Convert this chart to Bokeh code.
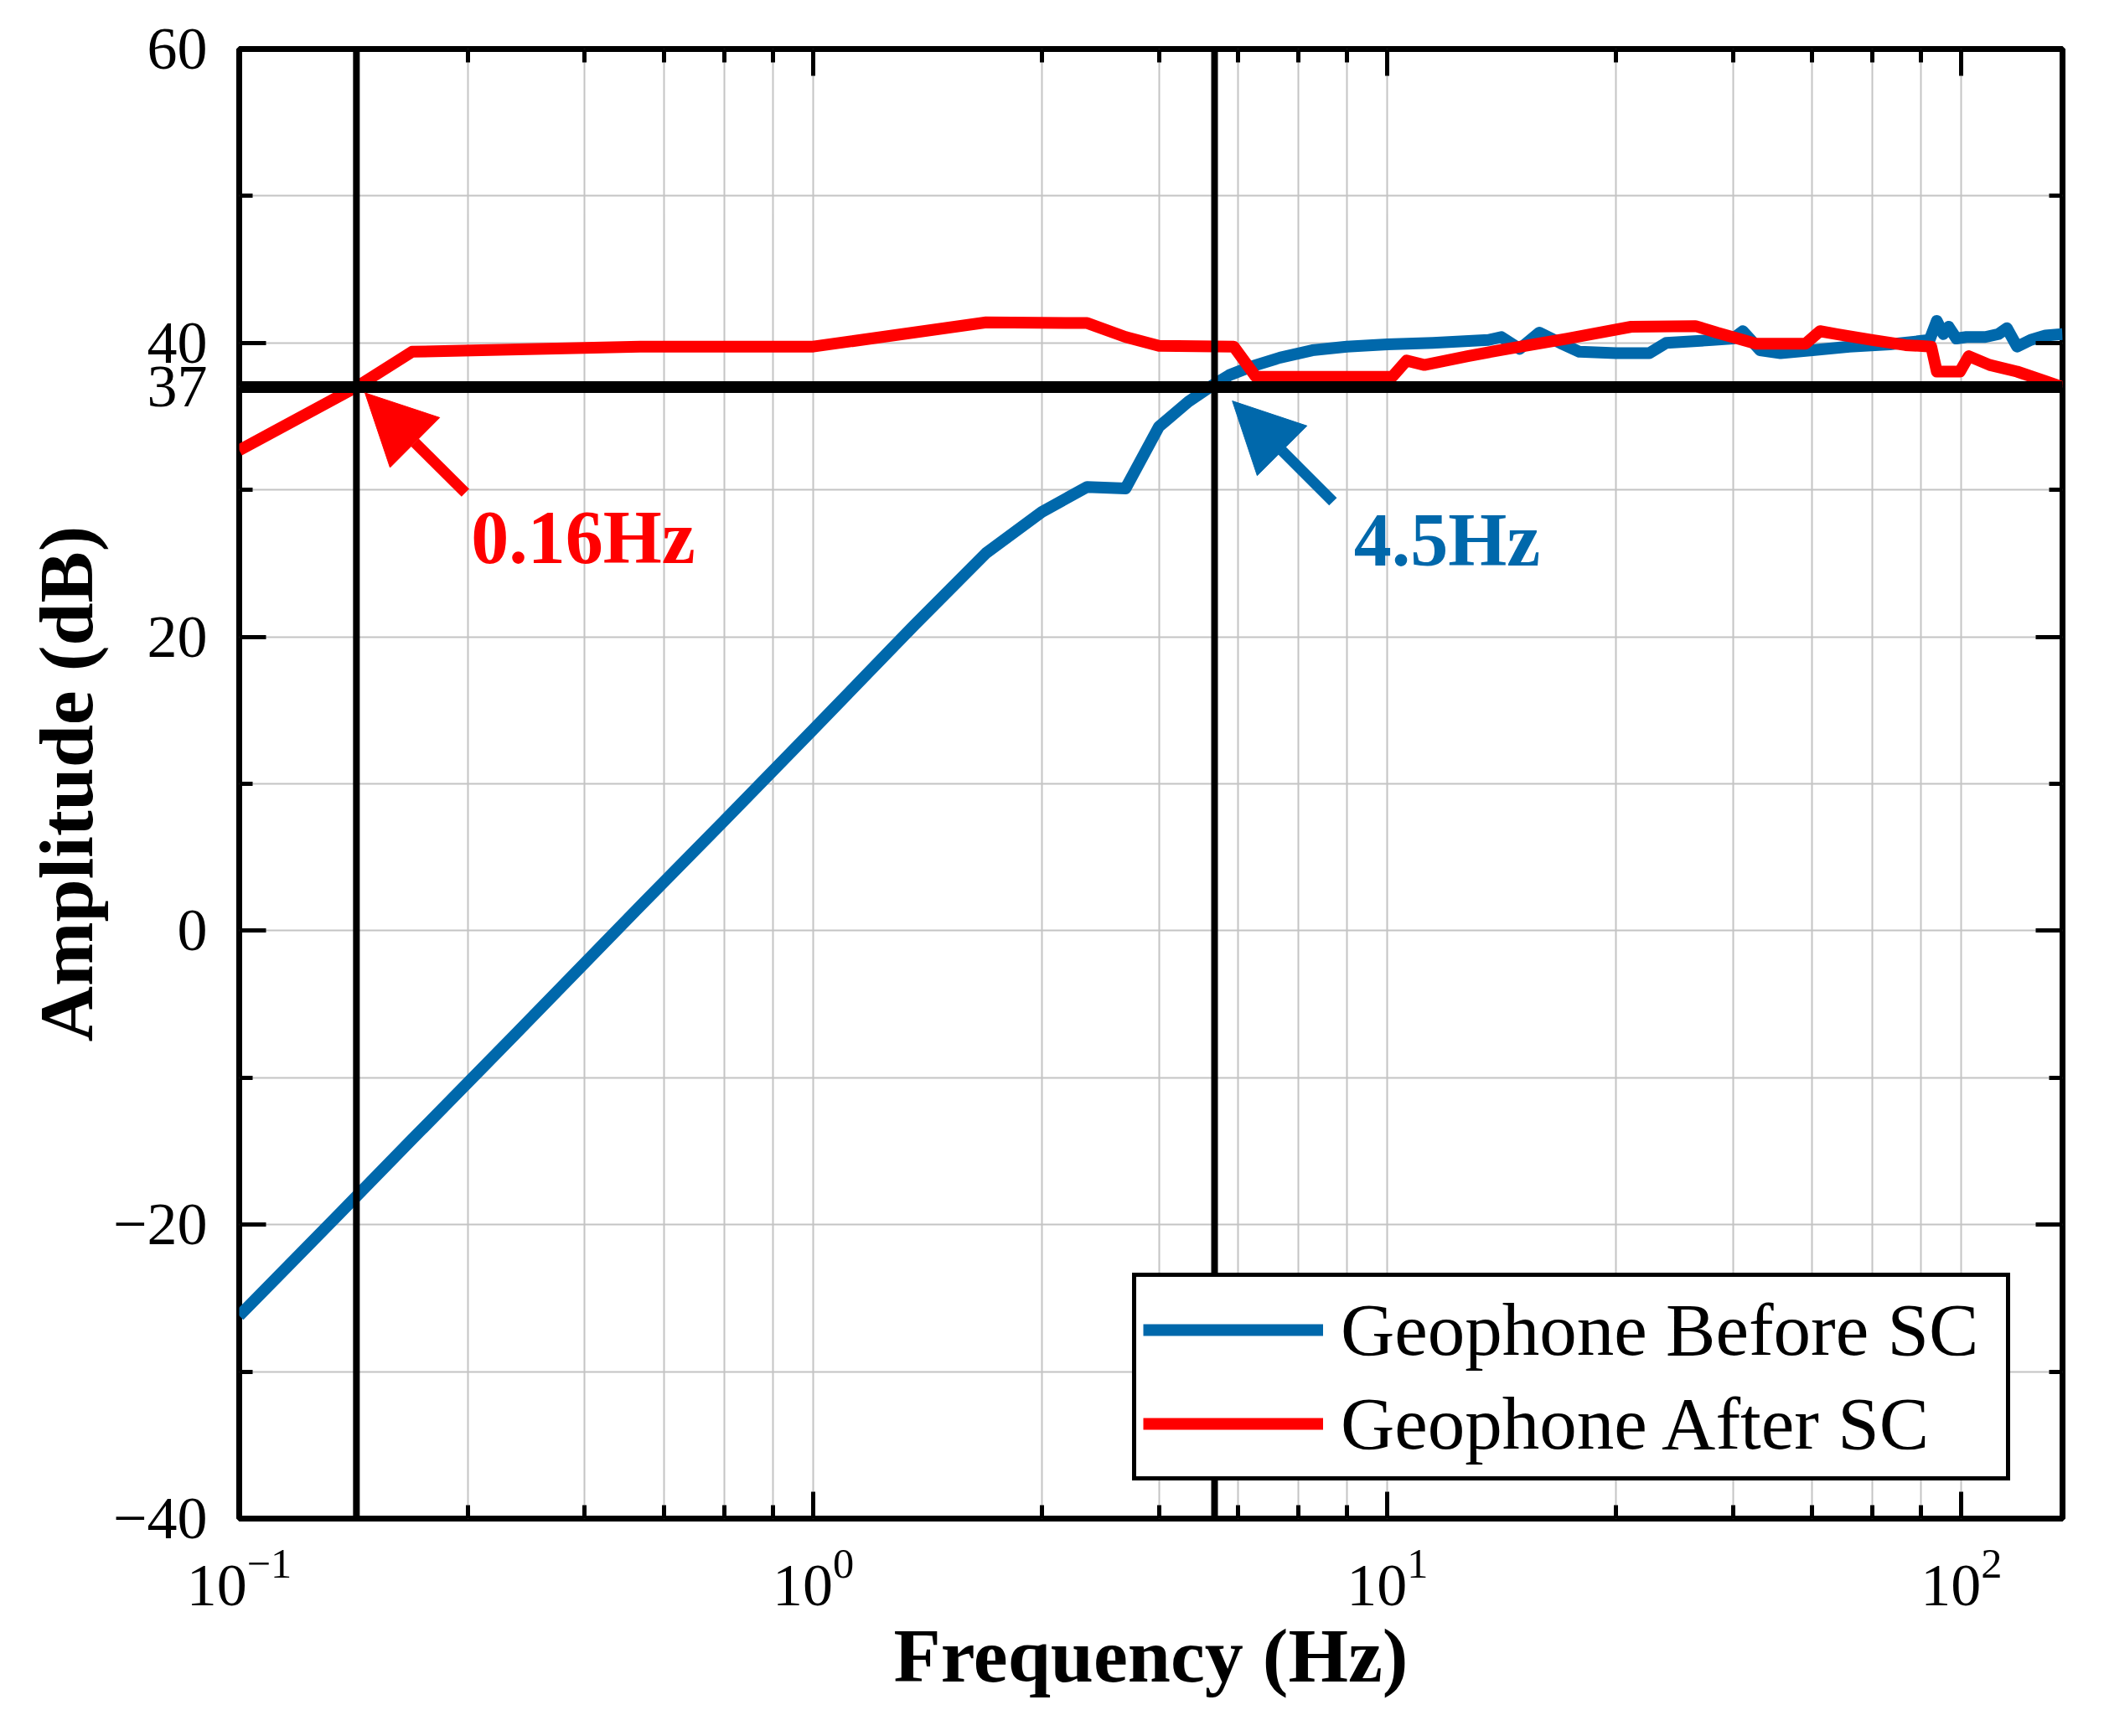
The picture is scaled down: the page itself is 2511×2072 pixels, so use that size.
from bokeh.plotting import figure
from bokeh.models import (Range1d, FixedTicker, LogAxis, LinearAxis, Span, Arrow,
                          NormalHead, Label, Legend, LegendItem, CustomJSTickFormatter)
from bokeh.embed import file_html
from bokeh.resources import INLINE

# ---------------- data ----------------
before_freq = [0.1, 0.15, 0.2, 0.3, 0.5, 0.7, 1.0, 1.5, 2.0, 2.5, 3.0, 3.5, 4.0, 4.5,
               4.95, 5.3, 5.8, 6.5, 7.4, 8.5, 10, 12, 15, 15.8, 17, 18.4, 20, 21.6,
               25, 28.6, 30.6, 36.8, 40, 41.6, 44.6, 48.4, 55, 63.8, 75, 88, 90.6,
               93, 95, 98, 102, 110, 116, 120, 125, 132, 140, 150]
before_amp = [-26.2, -19.2, -14.2, -7.2, 1.7, 7.5, 13.7, 20.8, 25.7, 28.5, 30.2, 30.1,
              34.3, 36.0, 37.1, 37.8, 38.4, 39.0, 39.5, 39.75, 39.9, 40.0, 40.2, 40.4,
              39.6, 40.7, 40.0, 39.4, 39.3, 39.3, 40.0, 40.2, 40.3, 40.8, 39.5, 39.3,
              39.5, 39.75, 39.9, 40.2, 41.5, 40.6, 41.1, 40.3, 40.4, 40.4, 40.6, 41.0,
              39.75, 40.2, 40.5, 40.6]

after_freq = [0.1, 0.16, 0.2, 0.5, 1.0, 2.0, 3.0, 3.5, 4.0, 5.4, 5.9, 10.2, 10.8, 11.6,
              13.8, 16.2, 20.6, 26.6, 34.4, 37.5, 43.9, 53.5, 56.7, 60.7, 70, 79.9,
              88.6, 90.6, 99.4, 103, 112, 125, 140, 150]
after_amp = [32.7, 37.0, 39.4, 39.75, 39.75, 41.4, 41.35, 40.4, 39.8, 39.75, 37.7, 37.7,
             38.8, 38.5, 39.1, 39.6, 40.3, 41.1, 41.15, 40.7, 39.95, 39.95, 40.8, 40.6,
             40.2, 39.85, 39.75, 38.05, 38.05, 39.1, 38.5, 38.05, 37.4, 37.0]

series_names = ["Geophone Before SC", "Geophone After SC"]

x_major_ticks = [0.1, 1, 10, 100]
x_minor_ticks = [0.25, 0.4, 0.55, 0.7, 0.85, 2.5, 4, 5.5, 7, 8.5, 25, 40, 55, 70, 85]
y_major_ticks = [-40, -20, 0, 20, 37, 40, 60]
y_minor_ticks = [-30, -10, 10, 30, 50]
y_tick_labels = {-40: "\u221240", -20: "\u221220", 0: "0", 20: "20", 37: "37", 40: "40", 60: "60"}

cutoff_after_hz = 0.16      # marked line (red annotation)
cutoff_before_hz = 5.0      # marked line position as drawn (labelled 4.5Hz)
reference_level = 37
annot_after = "0.16Hz"
annot_before = "4.5Hz"

# ---------------- styling ----------------
BLUE = "#0068AB"
RED = "#FF0000"
FONT = "Liberation Serif"
LW = 14

p = figure(x_axis_type="log", x_range=Range1d(0.1, 150), y_range=Range1d(-40, 60),
           frame_width=2176, frame_height=1754,
           min_border_left=285, min_border_right=29, min_border_top=58, min_border_bottom=243,
           output_backend="svg", toolbar_location=None,
           background_fill_color="white", border_fill_color="white")

p.outline_line_color = "black"
p.outline_line_width = 7

xt = FixedTicker(ticks=x_major_ticks, minor_ticks=x_minor_ticks)
yt = FixedTicker(ticks=y_major_ticks, minor_ticks=y_minor_ticks)

p.xaxis.ticker = xt
p.yaxis.ticker = yt
p.yaxis.major_label_overrides = y_tick_labels

for ax in (p.xaxis[0], p.yaxis[0]):
    ax.axis_line_color = None
    ax.major_tick_in = 32
    ax.major_tick_out = 0
    ax.minor_tick_in = 16
    ax.minor_tick_out = 0
    ax.major_tick_line_width = 5
    ax.minor_tick_line_width = 5
    ax.major_tick_line_color = "black"
    ax.minor_tick_line_color = "black"
    ax.major_label_text_font = FONT
    ax.major_label_text_font_size = "72px"
    ax.major_label_text_color = "black"
    ax.axis_label_text_font = FONT
    ax.axis_label_text_font_style = "bold"
    ax.axis_label_text_font_size = "92px"
    ax.axis_label_text_color = "black"

p.xaxis.axis_label = "Frequency (Hz)"
p.yaxis.axis_label = "Amplitude (dB)"
p.xaxis.major_label_standoff = 37
p.xaxis.axis_label_standoff = 6
p.yaxis.major_label_standoff = 38
p.yaxis.axis_label_standoff = 2

# mirrored axes (ticks only) on top and right
top_ax = LogAxis(ticker=xt, formatter=CustomJSTickFormatter(code="return ''"),
                 axis_line_color=None, major_label_text_font_size="1px",
                 major_tick_in=32, major_tick_out=0, minor_tick_in=16, minor_tick_out=0,
                 major_tick_line_width=5, minor_tick_line_width=5, major_label_standoff=0)
right_ax = LinearAxis(ticker=yt, formatter=CustomJSTickFormatter(code="return ''"),
                      axis_line_color=None, major_label_text_font_size="1px",
                      major_tick_in=32, major_tick_out=0, minor_tick_in=16, minor_tick_out=0,
                      major_tick_line_width=5, minor_tick_line_width=5, major_label_standoff=0)
p.add_layout(top_ax, "above")
p.add_layout(right_ax, "right")

# grids
for g in (p.xgrid[0], p.ygrid[0]):
    g.grid_line_color = "#C4C4C4"
    g.grid_line_width = 2
    g.minor_grid_line_color = "#C4C4C4"
    g.minor_grid_line_width = 2

# curves
r_before = p.line(before_freq, before_amp, line_color=BLUE, line_width=LW, line_join="round")
r_after = p.line(after_freq, after_amp, line_color=RED, line_width=LW, line_join="round")

# marker lines
p.add_layout(Span(location=cutoff_after_hz, dimension="height", line_color="black", line_width=8))
p.add_layout(Span(location=cutoff_before_hz, dimension="height", line_color="black", line_width=8))
p.add_layout(Span(location=reference_level, dimension="width", line_color="black", line_width=14))

# arrows
p.add_layout(Arrow(end=NormalHead(size=84, fill_color=RED, line_color=RED, line_width=1),
                   x_start=0.2477, y_start=29.8, x_end=0.1656, y_end=36.6,
                   line_color=RED, line_width=13))
p.add_layout(Arrow(end=NormalHead(size=84, fill_color=BLUE, line_color=BLUE, line_width=1),
                   x_start=8.04, y_start=29.2, x_end=5.37, y_end=36.05,
                   line_color=BLUE, line_width=13))

# annotation texts
p.add_layout(Label(x=0.2535, y=26.75, text=annot_after, text_color=RED, text_font=FONT,
                   text_font_style="bold", text_font_size="90px",
                   text_align="left", text_baseline="alphabetic"))
p.add_layout(Label(x=8.74, y=26.6, text=annot_before, text_color=BLUE, text_font=FONT,
                   text_font_style="bold", text_font_size="90px",
                   text_align="left", text_baseline="alphabetic"))

# legend
legend = Legend(items=[LegendItem(label=series_names[0], renderers=[r_before]),
                       LegendItem(label=series_names[1], renderers=[r_after])],
                location=(1066, 45), orientation="vertical",
                border_line_color="black", border_line_width=5, border_line_alpha=1.0,
                background_fill_color="white", background_fill_alpha=1.0,
                glyph_width=215, glyph_height=110, label_height=110, label_width=786,
                label_standoff=21, spacing=2, padding=8, margin=0,
                label_text_font=FONT, label_text_font_size="89px",
                label_text_color="black", label_text_baseline="middle")
p.add_layout(legend, "center")

open("out.html", "w").write(file_html(p, INLINE))
